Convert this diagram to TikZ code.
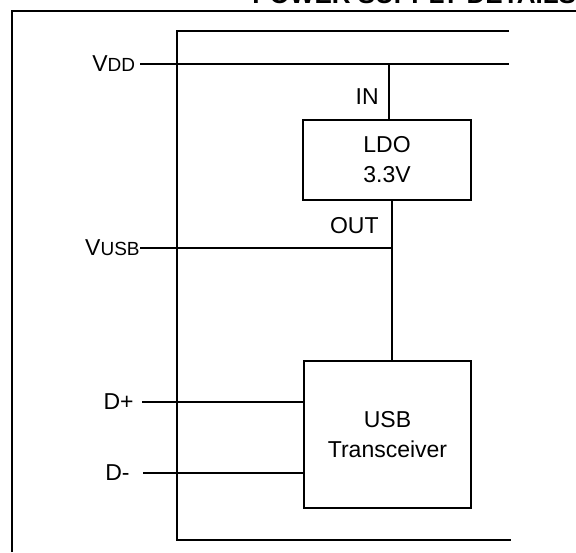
\documentclass[tikz,border=0pt]{standalone}
\usepackage{fontspec}
\setmainfont{Liberation Sans}
\usetikzlibrary{positioning}
\tikzset{
  pwr frame/.style={draw=black,line width=1.1pt},
  pwr wire/.style={draw=black,line width=1.1pt},
  pwr box/.style={draw=black,line width=1.1pt,inner sep=0pt,align=center,font=\fontsize{11.5}{15}\selectfont},
  pwr pin/.style={inner ysep=0pt,inner xsep=#1,anchor=east,font=\fontsize{11.5}{14}\selectfont},
  pwr pin/.default=0pt
}
\newcommand{\pinsub}[1]{{\fontsize{9.5}{11}\selectfont #1}}

\begin{document}
\begin{tikzpicture}[x=0.5pt,y=-0.5pt]
  \useasboundingbox (0,0) rectangle (576,552);
  % heading, cut by the page edge
  \node[anchor=base west,inner sep=0pt,font=\fontsize{13}{15}\selectfont\bfseries] (title) at (252,3.5) {POWER SUPPLY DETAILS};
  \draw[pwr frame] (12,552) -- (12,11) -- (576,11);
  \draw[pwr frame] (509,31) -- (177,31) -- (177,540) -- (511,540);
  % blocks
  \node[pwr box,minimum width=84pt,minimum height=40pt] (ldo) at (387,160) {LDO\\3.3V};
  \node[pwr box,minimum width=83.5pt,minimum height=73.5pt] (usb) at (387.5,434.5) {USB\\Transceiver};
  % pins
  \node[pwr pin=2.25pt] (vdd) at (140,64) {V\pinsub{DD}};
  \node[pwr pin] (vusb) at (140,248) {V\pinsub{USB}};
  \node[pwr pin=4pt] (dp) at (142,402) {D+};
  \node[pwr pin=6.5pt] (dm) at (143,473) {D-};
  \node[pwr pin] (in) at (379,97) {IN};
  \node[pwr pin] (out) at (379,226) {OUT};
  \coordinate (vddR) at (509,64);
  \coordinate (ldoIn) at ([xshift=1pt]ldo.north);
  \coordinate (ldoOut) at ([xshift=2.5pt]ldo.south);
  \coordinate (usbIn) at (ldoOut |- usb.north);
  % wiring
  \draw[pwr wire] (vdd.east) -- (vddR);
  \draw[pwr wire] (ldoIn) -- (ldoIn |- vddR);
  \draw[pwr wire] (ldoOut) -- (usbIn);
  \draw[pwr wire] (vusb.east) -- (vusb.east -| ldoOut);
  \draw[pwr wire] (dp.east) -- (dp.east -| usb.west);
  \draw[pwr wire] (dm.east) -- (dm.east -| usb.west);
\end{tikzpicture}
\end{document}
